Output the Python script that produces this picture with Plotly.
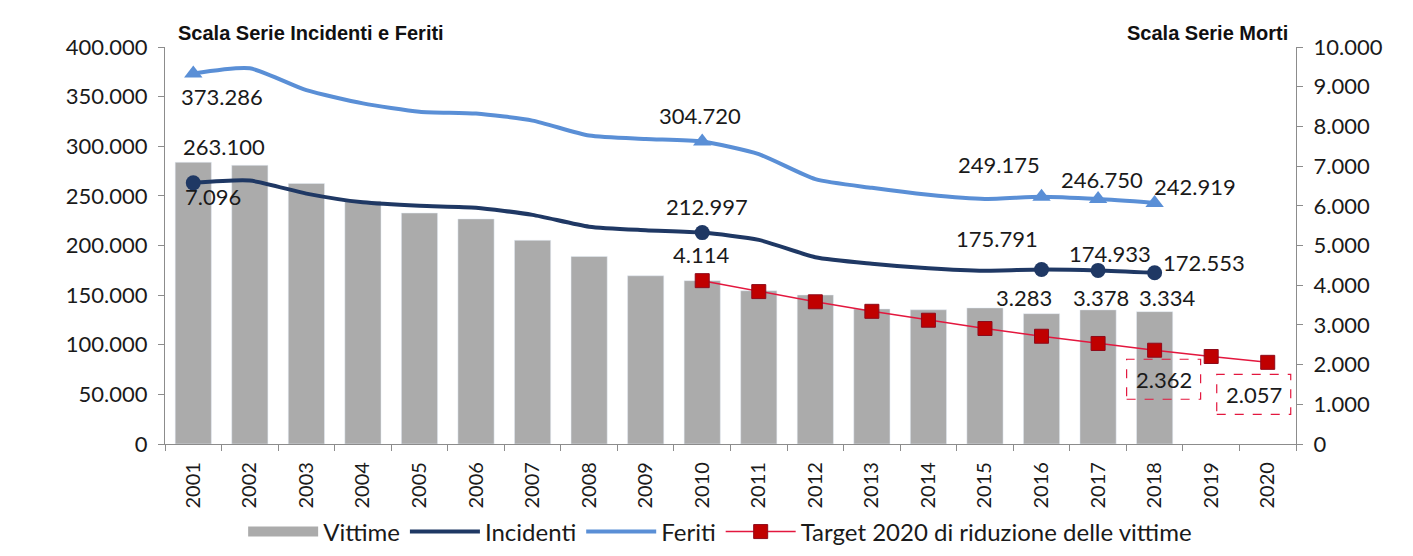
import plotly.graph_objects as go

years = [str(y) for y in range(2001, 2021)]
years_obs = years[:18]
vittime = [7096, 7020, 6563, 6122, 5818, 5669, 5131, 4725, 4237, 4114, 3860, 3753, 3401, 3381, 3428, 3283, 3378, 3334]
incidenti = [263100, 265402, 252271, 243490, 240011, 238124, 230871, 218963, 215405, 212997, 205638, 188228, 181660, 177031, 174539, 175791, 174933, 172553]
feriti = [373286, 378492, 356475, 343179, 334858, 332955, 325850, 310745, 307258, 304720, 292019, 266864, 258093, 251147, 246920, 249175, 246750, 242919]
target_years = years[9:]
target = [4114, 3839, 3582, 3342, 3118, 2909, 2714, 2532, 2362, 2204, 2057]
marked_years = ["2001", "2010", "2016", "2017", "2018"]

FONT = "Lato"
C_BAR = "#ABABAB"
C_INC = "#1F3864"
C_FER = "#5A8FD6"
C_TGT = "#E3173E"
C_TGT_M = "#C00000"

# y  -> right axis (Morti / Vittime), y2 -> left axis (Incidenti e Feriti), drawn on top
Y_MORTI, Y_INC = "y", "y2"

def fmt(v):
    return f"{v:,}".replace(",", ".")

def pos(y):
    return years.index(y)

fig = go.Figure()
fig.add_trace(go.Bar(x=years_obs, y=vittime, name="Vittime", marker_color=C_BAR,
                     width=0.64, yaxis=Y_MORTI, showlegend=False))
# legend entry for the bars, drawn as a wide gray block
fig.add_trace(go.Scatter(x=[None], y=[None], name="Vittime", mode="lines",
                         line=dict(color=C_BAR, width=16), yaxis=Y_MORTI))
fig.add_trace(go.Scatter(x=years_obs, y=incidenti, name="Incidenti", mode="lines", yaxis=Y_INC,
                         line=dict(color=C_INC, width=4, shape="spline", smoothing=0.6)))
fig.add_trace(go.Scatter(x=years_obs, y=feriti, name="Feriti", mode="lines", yaxis=Y_INC,
                         line=dict(color=C_FER, width=4, shape="spline", smoothing=0.6)))
fig.add_trace(go.Scatter(x=target_years, y=target, name="Target 2020 di riduzione delle vittime",
                         mode="lines+markers", yaxis=Y_MORTI,
                         line=dict(color=C_TGT, width=1.5),
                         marker=dict(symbol="square", size=14, color=C_TGT_M,
                                     line=dict(color="#8E0A1A", width=1))))
idx = [years_obs.index(y) for y in marked_years]
fig.add_trace(go.Scatter(x=marked_years, y=[incidenti[i] for i in idx], mode="markers",
                         showlegend=False, yaxis=Y_INC,
                         marker=dict(symbol="circle", size=15, color=C_INC)))
fig.add_trace(go.Scatter(x=marked_years, y=[feriti[i] for i in idx], mode="markers",
                         showlegend=False, yaxis=Y_INC,
                         marker=dict(symbol="triangle-up", size=16, color=C_FER)))

ann = []
def lab(x, y, text, xs, ys, yref):
    ann.append(dict(x=pos(x), y=y, xref="x", yref=yref, text=text, showarrow=False,
                    xshift=xs, yshift=ys, font=dict(family=FONT, size=22, color="#1a1a1a")))

fer_off = {"2001": (29, -23), "2010": (-2, 26), "2016": (-43, 32), "2017": (4, 20), "2018": (40, 16)}
inc_off = {"2001": (31, 36), "2010": (5, 26), "2016": (-45, 31), "2017": (12, 17), "2018": (49, 10)}
for y in marked_years:
    i = years_obs.index(y)
    lab(y, feriti[i], fmt(feriti[i]), *fer_off[y], Y_INC)
    lab(y, incidenti[i], fmt(incidenti[i]), *inc_off[y], Y_INC)

vit_off = {"2001": (20, -34), "2016": (-18, 16), "2017": (3, 12), "2018": (12, 14)}
for y, (xs, ys) in vit_off.items():
    i = years_obs.index(y)
    lab(y, vittime[i], fmt(vittime[i]), xs, ys, Y_MORTI)
lab("2010", target[0], fmt(target[0]), -1, 26, Y_MORTI)

shapes = []
box_off = {"2018": (9, -29), "2020": (-14, -32)}
for y, (xs, ys) in box_off.items():
    v = target[target_years.index(y)]
    lab(y, v, fmt(v), xs, ys, Y_MORTI)
    shapes.append(dict(type="rect", xref="x", yref=Y_MORTI, xsizemode="pixel", ysizemode="pixel",
                       xanchor=pos(y), yanchor=v, x0=xs - 37, x1=xs + 37, y0=ys - 20, y1=ys + 20,
                       line=dict(color=C_TGT, width=1.2, dash="dash")))

ann.append(dict(x=0.01, y=1.035, xref="paper", yref="paper", xanchor="left", yanchor="middle",
                text="<b>Scala Serie Incidenti e Feriti</b>", showarrow=False,
                font=dict(family="Liberation Sans, Arial", size=20, color="#111")))
ann.append(dict(x=0.9945, y=1.035, xref="paper", yref="paper", xanchor="right", yanchor="middle",
                text="<b>Scala Serie Morti</b>", showarrow=False,
                font=dict(family="Liberation Sans, Arial", size=20, color="#111")))

axis_common = dict(showline=True, linecolor="#8c8c8c", linewidth=1.2, ticks="outside",
                   tickcolor="#8c8c8c", ticklen=6, showgrid=False, zeroline=False,
                   tickfont=dict(family=FONT, size=22, color="#1a1a1a"))

fig.update_layout(
    width=1413, height=556,
    margin=dict(l=157, r=125, t=39, b=120, autoexpand=False),
    plot_bgcolor="white", paper_bgcolor="white",
    separators=",.",
    font=dict(family=FONT, color="#1a1a1a"),
    xaxis=dict(type="category", categoryorder="array", categoryarray=years,
               range=[-0.5, len(years) - 0.5], autorange=False,
               tickangle=-90, tickson="boundaries", ticklabelstandoff=9,
               **{**axis_common, "tickfont": dict(family=FONT, size=20, color="#1a1a1a")}),
    yaxis=dict(range=[0, 10000], dtick=1000, tickformat=",d", side="right",
               ticklabelstandoff=6, **axis_common),
    yaxis2=dict(range=[0, 400000], dtick=50000, tickformat=",d", side="left",
                overlaying="y", ticklabelstandoff=6, **axis_common),
    legend=dict(orientation="h", xref="container", yref="container",
                x=0.504, xanchor="center", y=0.0576, yanchor="middle",
                font=dict(family=FONT, size=24, color="#1a1a1a"), itemwidth=70,
                traceorder="normal"),
    annotations=ann,
    shapes=shapes,
    showlegend=True,
)

fig.write_html("out.html")
